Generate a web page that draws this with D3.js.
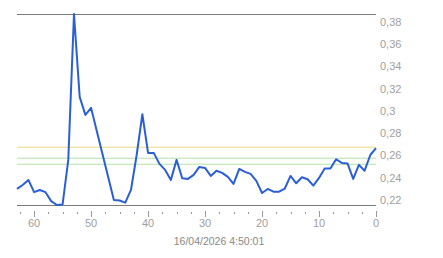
<!DOCTYPE html>
<html>
<head>
<meta charset="utf-8">
<script src="https://cdn.jsdelivr.net/npm/d3@7"></script>
<style>
  body { margin: 0; background: #fff; }
  text { font-family: "Liberation Sans", Arial, sans-serif; fill: #a0a0a0; }
</style>
</head>
<body>
<div id="chart"></div>
<script>
// Chart data: value per step, from step 63 (oldest) down to 0 (now)
const steps = d3.range(63, -1, -1)
const values = [
  0.230, 0.2335, 0.238, 0.227, 0.229, 0.227, 0.219, 0.2155, 0.216, 0.256,
  0.387, 0.3126, 0.2964, 0.3027, 0.282, 0.2613, 0.2407, 0.220, 0.2195, 0.2176,
  0.229, 0.2604, 0.297, 0.2623, 0.2623, 0.2524, 0.247, 0.238, 0.256, 0.2395,
  0.2389, 0.2425, 0.2497, 0.2488, 0.2416, 0.2463, 0.2443, 0.2407, 0.2344, 0.2479,
  0.2452, 0.2434, 0.2371, 0.2263, 0.2299, 0.2275, 0.2275, 0.2303, 0.2416, 0.235,
  0.2404, 0.2386, 0.2329, 0.2398, 0.2483, 0.2483, 0.2566, 0.2533, 0.2528, 0.2389,
  0.2515, 0.2463, 0.2604, 0.2665
]
// Reference levels
const refYellow = [0.2674]
const refGreen = [0.2575, 0.2521]
const yTicks = [0.22, 0.24, 0.26, 0.28, 0.30, 0.32, 0.34, 0.36, 0.38]
const xTicks = d3.range(0, 63, 2.5)
const xLabels = [0, 10, 20, 30, 40, 50, 60]
const stamp = '16/04/2026 4:50:01'

const width = 443, height = 258
const plotLeft = 17, plotRight = 376, plotTop = 14, plotBottom = 205

const data = steps.map((s, i) => ({step: s, value: values[i]}))

const svg = d3.select('#chart').append('svg')
  .attr('width', width)
  .attr('height', height)

const x = d3.scaleLinear().domain([63, 0]).range([plotLeft, plotRight])
const y = d3.scaleLinear()
  .domain([d3.min(values), d3.max(values)])
  .range([plotBottom, plotTop])

// reference lines
svg.selectAll('line.green')
  .data(refGreen)
  .enter().append('line')
  .attr('x1', plotLeft).attr('x2', plotRight)
  .attr('y1', d => y(d)).attr('y2', d => y(d))
  .attr('stroke', '#b4e0a4').attr('stroke-width', 1)

svg.selectAll('line.yellow')
  .data(refYellow)
  .enter().append('line')
  .attr('x1', plotLeft).attr('x2', plotRight)
  .attr('y1', d => y(d)).attr('y2', d => y(d))
  .attr('stroke', '#ecd880').attr('stroke-width', 1)

// min / max lines
svg.selectAll('line.minmax')
  .data(y.domain())
  .enter().append('line')
  .attr('x1', plotLeft).attr('x2', plotRight)
  .attr('y1', d => Math.round(y(d)) + 0.5).attr('y2', d => Math.round(y(d)) + 0.5)
  .attr('stroke', '#7a7a7a').attr('stroke-width', 1.2)

// x ticks
svg.selectAll('line.xtick')
  .data(xTicks)
  .enter().append('line')
  .attr('x1', d => Math.round(x(d)) + 0.5).attr('x2', d => Math.round(x(d)) + 0.5)
  .attr('y1', d => d % 10 === 0 ? 211 : 212)
  .attr('y2', d => d % 10 === 0 ? 217 : 214)
  .attr('stroke', '#999').attr('stroke-width', 1)

svg.selectAll('text.xlab')
  .data(xLabels)
  .enter().append('text')
  .attr('x', d => x(d))
  .attr('y', 227)
  .attr('text-anchor', 'middle')
  .style('font-size', '11px')
  .text(d => d)

// y labels
const fmt = v => String(+v.toFixed(2)).replace('.', ',')
svg.selectAll('text.ylab')
  .data(yTicks)
  .enter().append('text')
  .attr('x', 380)
  .attr('y', d => y(d) + 4)
  .style('font-size', '11px')
  .text(fmt)

// the series
const line = d3.line()
  .x(d => x(d.step))
  .y(d => y(d.value))

svg.append('path')
  .datum(data)
  .attr('d', line)
  .attr('fill', 'none')
  .attr('stroke', '#2a5fd8')
  .attr('stroke-width', 2)
  .attr('stroke-linejoin', 'round')

svg.append('text')
  .attr('x', 219)
  .attr('y', 245)
  .attr('text-anchor', 'middle')
  .style('font-size', '10.5px')
  .style('fill', '#888')
  .text(stamp)
</script>
</body>
</html>
